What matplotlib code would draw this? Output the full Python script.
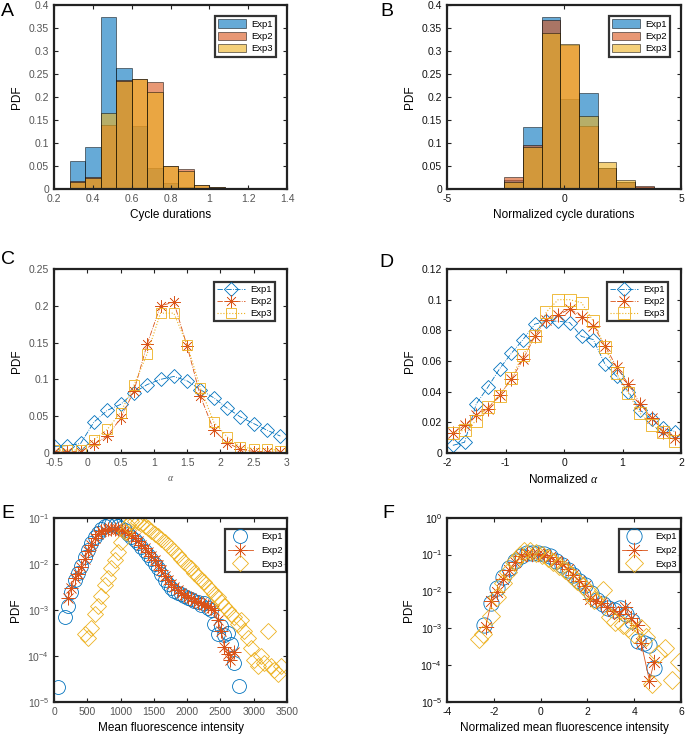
import matplotlib
matplotlib.use('Agg')
import matplotlib.pyplot as plt
from matplotlib.ticker import FixedLocator, NullLocator

plt.rcParams['font.family'] = ['Liberation Sans', 'DejaVu Sans']
plt.rcParams['mathtext.fontset'] = 'custom'
plt.rcParams['mathtext.it'] = 'Liberation Serif:italic'
plt.rcParams['mathtext.rm'] = 'Liberation Sans'

# ---------------- data ----------------
series_names = ['Exp1', 'Exp2', 'Exp3']

# Panel A: cycle durations histogram (probability per bin)
edges_A = [0.20, 0.28, 0.36, 0.44, 0.52, 0.60, 0.68, 0.76, 0.84, 0.92, 1.00, 1.08, 1.16]
A_exp1 = [0.003, 0.060, 0.092, 0.373, 0.264, 0.138, 0.046, 0.012, 0.005, 0.002, 0.002, 0.003]
A_exp2 = [0.000, 0.017, 0.027, 0.140, 0.237, 0.240, 0.232, 0.050, 0.043, 0.008, 0.004, 0.002]
A_exp3 = [0.000, 0.015, 0.025, 0.165, 0.235, 0.240, 0.210, 0.049, 0.039, 0.008, 0.004, 0.000]

# Panel B: normalized cycle durations histogram
edges_B = [-2.56, -1.76, -0.96, -0.16, 0.64, 1.44, 2.24, 3.04, 3.84, 4.64]
B_exp1 = [0.020, 0.135, 0.375, 0.196, 0.208, 0.045, 0.016, 0.004, 0.002]
B_exp2 = [0.026, 0.096, 0.367, 0.312, 0.137, 0.045, 0.016, 0.007, 0.002]
B_exp3 = [0.016, 0.092, 0.340, 0.316, 0.159, 0.058, 0.019, 0.002, 0.000]

# Panel C: alpha PDF
C_x = [-0.5, -0.3, -0.1, 0.1, 0.3, 0.5, 0.7, 0.9, 1.1, 1.3, 1.5, 1.7, 1.9, 2.1, 2.3, 2.5, 2.7, 2.9]
C_exp1 = [0.009, 0.010, 0.013, 0.042, 0.058, 0.066, 0.082, 0.093, 0.100, 0.104, 0.098, 0.086,
          0.075, 0.061, 0.049, 0.040, 0.031, 0.023]
C_exp2 = [0.002, 0.002, 0.002, 0.012, 0.023, 0.047, 0.084, 0.148, 0.200, 0.205, 0.145, 0.077,
          0.031, 0.014, 0.005, 0.002, 0.002, 0.001]
C_exp3 = [0.004, 0.004, 0.004, 0.018, 0.032, 0.055, 0.092, 0.135, 0.190, 0.190, 0.147, 0.088,
          0.042, 0.022, 0.008, 0.006, 0.006, 0.003]

# Panel D: normalized alpha PDF
D_x = [-1.9, -1.7, -1.5, -1.3, -1.1, -0.9, -0.7, -0.5, -0.3, -0.1,
       0.1, 0.3, 0.5, 0.7, 0.9, 1.1, 1.3, 1.5, 1.7, 1.9]
D_exp1 = [0.005, 0.007, 0.032, 0.043, 0.055, 0.065, 0.074, 0.084, 0.086, 0.086,
          0.085, 0.076, 0.074, 0.058, 0.050, 0.040, 0.028, 0.022, 0.016, 0.014]
D_exp2 = [0.013, 0.018, 0.025, 0.029, 0.038, 0.048, 0.061, 0.076, 0.087, 0.090,
          0.094, 0.089, 0.083, 0.070, 0.056, 0.045, 0.032, 0.023, 0.014, 0.010]
D_exp3 = [0.013, 0.015, 0.021, 0.030, 0.037, 0.049, 0.064, 0.076, 0.092, 0.100,
          0.100, 0.098, 0.086, 0.069, 0.052, 0.039, 0.026, 0.018, 0.014, 0.008]

# Panel E: mean fluorescence intensity PDF (log)
E1_x = [60, 160, 210, 260, 310, 360, 410, 460, 510, 560, 610, 660, 710, 760, 810, 860, 910, 960,
        1010, 1060, 1110, 1160, 1210, 1260, 1310, 1360, 1410, 1460, 1510, 1560, 1610, 1660, 1710,
        1760, 1810, 1860, 1910, 1960, 2010, 2060, 2110, 2160, 2210, 2260, 2310, 2360, 2410, 2460,
        2510, 2560, 2610, 2660, 2710, 2780]
E1_y = [2.1e-5, 7e-4, 1.2e-3, 2.5e-3, 4.5e-3, 6.5e-3, 9e-3, 1.4e-2, 2.0e-2, 2.8e-2, 3.8e-2, 4.8e-2,
        5.8e-2, 6.6e-2, 7.2e-2, 7.3e-2, 7.2e-2, 6.8e-2, 6.2e-2, 5.5e-2, 4.6e-2, 3.9e-2, 3.3e-2,
        2.8e-2, 2.3e-2, 1.9e-2, 1.6e-2, 1.3e-2, 1.0e-2, 8e-3, 6e-3, 4.5e-3, 3.6e-3, 3.0e-3,
        2.6e-3, 2.4e-3, 2.2e-3, 2.0e-3, 1.8e-3, 1.7e-3, 1.6e-3, 1.5e-3, 1.3e-3, 1.4e-3, 1.1e-3,
        1.0e-3, 5e-4, 3e-4, 4.5e-4, 2.8e-4, 3.2e-4, 1.8e-4, 7e-5, 2.2e-5]
E2_x = [210, 260, 310, 360, 410, 460, 510, 560, 610, 660, 710, 760, 810, 860, 910, 960, 1010,
        1060, 1110, 1160, 1210, 1260, 1310, 1360, 1410, 1460, 1510, 1560, 1610, 1660, 1710, 1760,
        1810, 1860, 1910, 1960, 2010, 2060, 2110, 2160, 2210, 2260, 2310, 2360, 2410, 2460, 2510,
        2560, 2610, 2640, 2700]
E2_y = [1.8e-3, 3.0e-3, 5.0e-3, 6.0e-3, 8.5e-3, 1.3e-2, 1.9e-2, 2.6e-2, 3.6e-2, 4.6e-2, 5.3e-2,
        5.6e-2, 5.7e-2, 5.8e-2, 5.9e-2, 5.8e-2, 5.6e-2, 5.2e-2, 4.8e-2, 4.2e-2, 3.6e-2, 3.1e-2,
        2.6e-2, 2.2e-2, 1.8e-2, 1.5e-2, 1.2e-2, 9.5e-3, 7.5e-3, 5.5e-3, 4.5e-3, 3.6e-3, 3.1e-3,
        2.7e-3, 2.4e-3, 2.1e-3, 1.9e-3, 1.8e-3, 1.6e-3, 1.5e-3, 1.4e-3, 1.3e-3, 1.2e-3, 1.1e-3,
        1.0e-3, 6e-4, 3.5e-4, 1.6e-4, 1.1e-4, 8e-5, 1.2e-4]
E3_x = [460, 510, 560, 610, 660, 710, 760, 810, 860, 910, 960, 1010, 1060, 1110, 1160, 1210, 1260,
        1310, 1360, 1410, 1460, 1510, 1560, 1610, 1660, 1710, 1760, 1810, 1860, 1910, 1960, 2010,
        2060, 2110, 2160, 2210, 2260, 2310, 2360, 2410, 2460, 2510, 2560, 2610, 2660, 2710, 2760,
        2810, 2860, 2910, 2960, 3010, 3060, 3110, 3160, 3210, 3260, 3310, 3360, 3410]
E3_y = [3e-4, 2.5e-4, 4e-4, 8e-4, 1.2e-3, 2e-3, 3.5e-3, 5e-3, 8e-3, 1.2e-2, 1.8e-2, 3.0e-2,
        5.0e-2, 7.0e-2, 8.5e-2, 8.5e-2, 8e-2, 7.5e-2, 6.8e-2, 6.0e-2, 5.2e-2, 4.5e-2, 4.0e-2,
        3.5e-2, 3.0e-2, 2.6e-2, 2.2e-2, 1.9e-2, 1.6e-2, 1.3e-2, 1.1e-2, 9e-3, 8e-3, 6.5e-3,
        5.5e-3, 4.5e-3, 4e-3, 3.2e-3, 2.7e-3, 2.2e-3, 1.9e-3, 1.5e-3, 1.2e-3, 1.0e-3, 8e-4,
        7e-4, 5e-4, 6e-4, 3.5e-4, 2.5e-4, 1.5e-4, 8e-5, 6e-5, 1e-4, 7e-5, 3.5e-4, 6e-5, 5e-5,
        4e-5, 6e-5]

# Panel F: normalized mean fluorescence intensity PDF (log)
F1_x = [-2.4, -2.1, -1.85, -1.6, -1.35, -1.1, -0.85, -0.6, -0.35, -0.1, 0.15, 0.4, 0.65, 0.9,
        1.15, 1.4, 1.65, 1.9, 2.15, 2.4, 2.65, 2.9, 3.15, 3.4, 3.65, 3.9, 4.15, 4.4, 4.65, 4.85]
F1_y = [1.2e-3, 5e-3, 1.25e-2, 2.5e-2, 4.3e-2, 6.6e-2, 9e-2, 1.1e-1, 1.15e-1, 1.15e-1, 1.05e-1,
        9e-2, 7e-2, 5.2e-2, 3.8e-2, 2.8e-2, 2.0e-2, 1.5e-2, 9e-3, 6e-3, 4.5e-3, 3.5e-3, 3.2e-3,
        3.5e-3, 2.5e-3, 1.6e-3, 4.5e-4, 4e-4, 3.6e-4, 8.5e-5]
F2_x = [-2.35, -2.1, -1.85, -1.6, -1.35, -1.1, -0.85, -0.6, -0.35, -0.1, 0.15, 0.4, 0.65, 0.9,
        1.15, 1.4, 1.65, 1.9, 2.1, 2.35, 2.6, 2.85, 3.1, 3.35, 3.6, 3.85, 4.1, 4.3, 4.65, 4.85]
F2_y = [1.1e-3, 5.4e-3, 1.0e-2, 2.2e-2, 3.8e-2, 6.2e-2, 9e-2, 1.05e-1, 1.05e-1, 1.05e-1, 1.0e-1,
        8.5e-2, 7e-2, 5.5e-2, 4e-2, 2.8e-2, 2e-2, 1.4e-2, 6.2e-3, 5.6e-3, 5e-3, 3.8e-3, 3e-3,
        2.5e-3, 3.8e-3, 1.9e-3, 1.2e-3, 4e-4, 3.8e-5, 1.2e-4]
F3_x = [-2.65, -2.45, -2.1, -1.85, -1.6, -1.4, -1.15, -0.9, -0.7, -0.45, -0.2, 0.05, 0.3, 0.55,
        0.8, 1.05, 1.3, 1.55, 1.8, 2.05, 2.3, 2.65, 2.95, 3.2, 3.5, 3.75, 4.0, 4.3, 4.5, 4.75,
        5.0, 5.3, 5.6, 5.9]
F3_y = [5e-4, 7e-4, 2.2e-3, 7e-3, 1.7e-2, 3.5e-2, 6.5e-2, 1.0e-1, 1.3e-1, 1.25e-1, 1.15e-1,
        1.0e-1, 8e-2, 6.5e-2, 5e-2, 3.8e-2, 2.8e-2, 2.0e-2, 1.4e-2, 1.0e-2, 6e-3, 1.1e-2, 2e-3,
        1.5e-3, 1.2e-3, 1e-3, 7e-4, 1.0e-3, 6e-4, 3e-5, 2e-4, 3e-4, 4e-5, 1.2e-4]

# ---------------- style ----------------
c1 = (0.0, 0.447, 0.741)
c2 = (0.850, 0.325, 0.098)
c3 = (0.929, 0.694, 0.125)
AST = (8, 2, 0)   # MATLAB-like asterisk marker

W, H = 686, 738
fig = plt.figure(figsize=(W / 100, H / 100), dpi=100)


def add_ax(x0, y0, x1, y1):
    return fig.add_axes([x0 / W, 1 - y1 / H, (x1 - x0) / W, (y1 - y0) / H])


def style(ax, tcol):
    for s in ax.spines.values():
        s.set_linewidth(1.6)
        s.set_color('#222222')
    ax.tick_params(which='both', direction='in', top=True, right=True, labelsize=7.5,
                   labelcolor=tcol, width=0.8, color='#222222')
    ax.tick_params(which='major', length=3)
    ax.tick_params(which='minor', length=0)


def legend(ax, xr, yt, **kw):
    opts = dict(loc='upper right', fontsize=6.8, frameon=True, fancybox=False,
                borderpad=0.35, labelspacing=0.3, handletextpad=0.5, borderaxespad=0,
                bbox_to_anchor=(xr / W, 1 - yt / H), bbox_transform=fig.transFigure)
    opts.update(kw)
    lg = ax.legend(**opts)
    lg.get_frame().set_edgecolor('black')
    lg.get_frame().set_linewidth(1.6)
    return lg


axA = add_ax(54, 5, 287, 189)
axB = add_ax(447, 5, 681, 189)
axC = add_ax(54, 269, 287, 453)
axD = add_ax(447, 269, 681, 453)
axE = add_ax(54, 518, 287, 702)
axF = add_ax(447, 518, 681, 702)

# ---- A & B histograms
for ax, edges, vals, anc in [(axA, edges_A, [A_exp1, A_exp2, A_exp3], (276, 16)),
                             (axB, edges_B, [B_exp1, B_exp2, B_exp3], (670, 16))]:
    for v, c, n in zip(vals, [c1, c2, c3], series_names):
        ax.hist(edges[:-1], bins=edges, weights=v, facecolor=(*c, 0.6),
                edgecolor=(0, 0, 0, 0.7), linewidth=0.5, label=n)
    ax.set_ylim(0, 0.4)
    ax.yaxis.set_major_locator(FixedLocator([0, 0.05, 0.1, 0.15, 0.2, 0.25, 0.3, 0.35, 0.4]))
    ax.set_yticklabels(['0', '0.05', '0.1', '0.15', '0.2', '0.25', '0.3', '0.35', '0.4'])
    ax.set_ylabel('PDF', fontsize=8.5)
    legend(ax, *anc, handlelength=3.0, handleheight=1.0)

axA.set_xlim(0.2, 1.4)
axA.xaxis.set_major_locator(FixedLocator([0.2, 0.4, 0.6, 0.8, 1.0, 1.2, 1.4]))
axA.set_xticklabels(['0.2', '0.4', '0.6', '0.8', '1', '1.2', '1.4'])
axA.set_xlabel('Cycle durations', fontsize=8.5)
axB.set_xlim(-5, 5)
axB.xaxis.set_major_locator(FixedLocator([-5, 0, 5]))
axB.set_xticklabels(['-5', '0', '5'])
axB.set_xlabel('Normalized cycle durations', fontsize=8.5)

# ---- C & D line plots
for ax, x, vals, ms, anc in [(axC, C_x, [C_exp1, C_exp2, C_exp3], 9, (275, 282)),
                             (axD, D_x, [D_exp1, D_exp2, D_exp3], 10, (668, 282))]:
    ax.plot(x, vals[0], ls='-.', color=c1, lw=0.6, marker='D', ms=ms * 0.75, mfc='none',
            mew=0.6, label='Exp1')
    ax.plot(x, vals[1], ls='-.', color=c2, lw=0.6, marker=AST, ms=ms, mfc='none',
            mew=0.45, label='Exp2')
    ax.plot(x, vals[2], ls=':', color=c3, lw=0.8, marker='s', ms=ms * 0.85, mfc='none',
            mew=0.6, label='Exp3')
    ax.set_ylabel('PDF', fontsize=8.5)
    legend(ax, *anc, handlelength=3.0)

axC.set_xlim(-0.5, 3)
axC.set_ylim(0, 0.25)
axC.xaxis.set_major_locator(FixedLocator([-0.5, 0, 0.5, 1, 1.5, 2, 2.5, 3]))
axC.set_xticklabels(['-0.5', '0', '0.5', '1', '1.5', '2', '2.5', '3'])
axC.yaxis.set_major_locator(FixedLocator([0, 0.05, 0.1, 0.15, 0.2, 0.25]))
axC.set_yticklabels(['0', '0.05', '0.1', '0.15', '0.2', '0.25'])
axC.set_xlabel(r'$\alpha$', fontsize=7, color='#555555')

axD.set_xlim(-2, 2)
axD.set_ylim(0, 0.12)
axD.xaxis.set_major_locator(FixedLocator([-2, -1, 0, 1, 2]))
axD.set_xticklabels(['-2', '-1', '0', '1', '2'])
axD.yaxis.set_major_locator(FixedLocator([0, 0.02, 0.04, 0.06, 0.08, 0.1, 0.12]))
axD.set_yticklabels(['0', '0.02', '0.04', '0.06', '0.08', '0.1', '0.12'])
axD.set_xlabel(r'Normalized $\alpha$', fontsize=8.5)

# ---- E & F log plots
for ax, data, ms, anc in [(axE, [(E1_x, E1_y), (E2_x, E2_y), (E3_x, E3_y)], 10, (286, 529)),
                          (axF, [(F1_x, F1_y), (F2_x, F2_y), (F3_x, F3_y)], 11, (680, 529))]:
    ax.plot(*data[0], ls='none', color=c1, marker='o', ms=ms, mfc='none', mew=0.6, label='Exp1')
    ax.plot(*data[1], ls='-', color=c2, lw=0.6, marker=AST, ms=ms, mfc='none', mew=0.45,
            label='Exp2')
    ax.plot(*data[2], ls='none', color=c3, marker='D', ms=ms * 0.8, mfc='none', mew=0.6,
            label='Exp3')
    ax.set_yscale('log')
    ax.yaxis.set_minor_locator(NullLocator())
    ax.set_ylabel('PDF', fontsize=8.5)
    legend(ax, *anc, handlelength=2.6, labelspacing=0.5, borderpad=0.35, handletextpad=0.9)

axE.set_xlim(0, 3500)
axE.set_ylim(1e-5, 1e-1)
axE.xaxis.set_major_locator(FixedLocator([0, 500, 1000, 1500, 2000, 2500, 3000, 3500]))
axE.set_xticklabels(['0', '500', '1000', '1500', '2000', '2500', '3000', '3500'])
axE.yaxis.set_major_locator(FixedLocator([1e-5, 1e-4, 1e-3, 1e-2, 1e-1]))
axE.set_yticklabels([r'10$^{-5}$', r'10$^{-4}$', r'10$^{-3}$', r'10$^{-2}$', r'10$^{-1}$'])
axE.set_xlabel('Mean fluorescence intensity', fontsize=8.5)

axF.set_xlim(-4, 6)
axF.set_ylim(1e-5, 1e0)
axF.xaxis.set_major_locator(FixedLocator([-4, -2, 0, 2, 4, 6]))
axF.set_xticklabels(['-4', '-2', '0', '2', '4', '6'])
axF.yaxis.set_major_locator(FixedLocator([1e-5, 1e-4, 1e-3, 1e-2, 1e-1, 1e0]))
axF.set_yticklabels([r'10$^{-5}$', r'10$^{-4}$', r'10$^{-3}$', r'10$^{-2}$', r'10$^{-1}$',
                     r'10$^{0}$'])
axF.set_xlabel('Normalized mean fluorescence intensity', fontsize=8.5)

for ax in (axA, axC, axE):
    style(ax, '#555555')
for ax in (axB, axD, axF):
    style(ax, '#111111')

# panel letters
for lab, (x, y) in {'A': (1, 12), 'B': (380, 12), 'C': (1, 260), 'D': (379, 262),
                    'E': (1, 514), 'F': (382, 514)}.items():
    fig.text(x / W, 1 - y / H, lab, fontsize=14, ha='left', va='center')

fig.savefig('out.png', dpi=100)
